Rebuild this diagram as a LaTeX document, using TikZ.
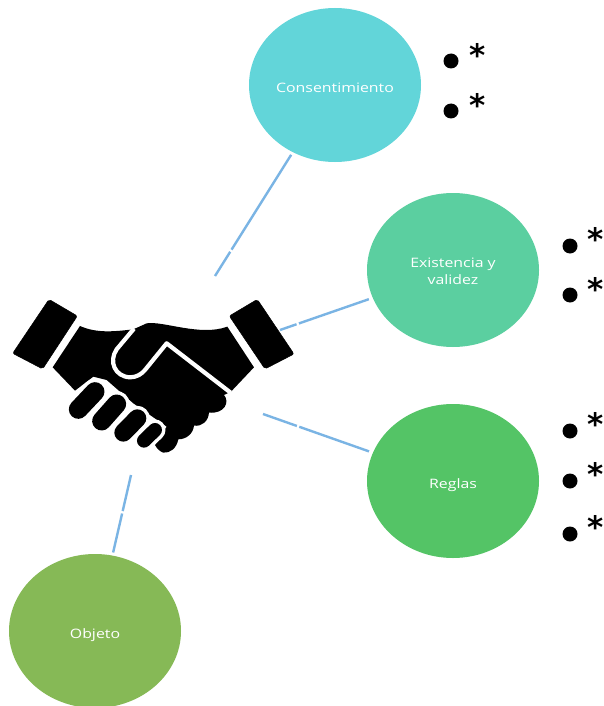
\documentclass[tikz,border=0pt]{standalone}
\usepackage{fontspec}
\setmainfont{Open Sans}
\newfontfamily\lblfont[FakeStretch=1.22]{Open Sans}
\newfontfamily\astfont{DejaVu Sans}
\definecolor{cA}{HTML}{62D5D9}
\definecolor{cB}{HTML}{5BCFA0}
\definecolor{cC}{HTML}{54C466}
\definecolor{cD}{HTML}{86B956}
\definecolor{cLine}{HTML}{7AB4E4}
\tikzset{
  bubble/.style={ellipse,minimum width=172pt,minimum height=154pt,inner sep=0pt},
  lbl/.style={inner sep=0pt,text=white,align=center,font=\lblfont\fontsize{13pt}{17pt}\selectfont},
  conn/.style={draw=cLine,line width=2.4pt},
  dot/.style={circle,fill=black,minimum size=15pt,inner sep=0pt},
  star/.style={inner sep=0pt,font=\astfont\bfseries\fontsize{31pt}{31pt}\selectfont},
  hand/.style={fill=black,draw=none},
  cuff/.style={fill=black,draw=black,line width=.5pt,rounded corners=2pt},
  gapline/.style={draw=white,line width=4.2pt,line join=round},
  fingerhalo/.style={draw=white,line cap=round},
  finger/.style={draw=black,line cap=round}
}
\usetikzlibrary{shapes.geometric}
\begin{document}
\begin{tikzpicture}[x=1pt,y=-1pt]
\useasboundingbox (0,0) rectangle (603,706);
\clip (0,0) rectangle (603,706);
\fill[white] (0,0) rectangle (603,706);
% bubbles
\node[bubble,fill=cA] (cons) at (335,85) {};
\node[bubble,fill=cB] (exis) at (453,270) {};
\node[bubble,fill=cC] (regl) at (453,481) {};
\node[bubble,fill=cD] (obje) at (95,631) {};
\node[lbl] (tcons) at (335,88) {Consentimiento};
\node[lbl] (texis) at (453,271) {Existencia y\\validez};
\node[lbl] (tregl) at (453,485) {Reglas};
\node[lbl] (tobje) at (95,635) {Objeto};
% free ends of connectors
\coordinate (e1) at (215,276);
\coordinate (e2) at (280,330);
\coordinate (e3) at (263,414);
\coordinate (e4) at (131,475);
\draw[conn,shorten <=3pt,dash pattern=on 112pt off 2.5pt on 100pt] (cons) -- (e1);
\draw[conn,shorten <=4pt,dash pattern=on 74pt off 2.5pt on 100pt] (exis) -- (e2);
\draw[conn,shorten <=4pt,dash pattern=on 74pt off 2.5pt on 100pt] (regl) -- (e3);
\draw[conn,shorten <=3pt,dash pattern=on 40pt off 2.5pt on 100pt] (obje) -- (e4);
% handshake
\begin{scope}[shift={(0,280)},x=0.3333pt,y=-0.3333pt]
\fill[cuff] (147,58) -- (232,108) -- (128,267) -- (38,220) -- cycle;
\fill[cuff] (772,58) -- (688,108) -- (795,267) -- (882,222) -- cycle;
\fill[hand] (240,138) .. controls (290,160) and (340,155) .. (400,148)
  -- (440,130) .. controls (490,122) and (600,170) .. (682,140)
  -- (762,262) -- (693,335) -- (672,345)
  .. controls (690,365) and (675,402) .. (627,398)
  .. controls (625,425) and (605,440) .. (582,437)
  .. controls (580,460) and (560,478) .. (535,478)
  .. controls (530,505) and (510,520) .. (490,518)
  .. controls (480,515) and (470,505) .. (465,495)
  -- (500,440) -- (400,370) -- (320,300) -- (280,290) -- (225,332) -- (158,262) -- cycle;
\draw[gapline] (402,146) -- (350,208) .. controls (325,245) and (345,290) .. (390,292)
  .. controls (410,292) and (425,282) .. (435,270) -- (500,190) -- (692,338);
\draw[fingerhalo,line width=26pt] (235,388) -- (285,335);
\draw[fingerhalo,line width=26pt] (305,423) -- (350,372);
\draw[fingerhalo,line width=25pt] (370,458) -- (412,415);
\draw[fingerhalo,line width=21pt] (432,482) -- (465,450);
\draw[finger,line width=19pt] (235,388) -- (285,335);
\draw[finger,line width=19pt] (305,423) -- (350,372);
\draw[finger,line width=18pt] (370,458) -- (412,415);
\draw[finger,line width=14pt] (432,482) -- (465,450);
\end{scope}
% bullets
\node[dot] (b1) at (451,61) {}; \node[star] (s1) at (478,55) {*};
\node[dot] (b2) at (451,111) {}; \node[star] (s2) at (478,105) {*};
\node[dot] (b3) at (570,246) {}; \node[star] (s3) at (596,239) {*};
\node[dot] (b4) at (570,295) {}; \node[star] (s4) at (596,289) {*};
\node[dot] (b5) at (570,431) {}; \node[star] (s5) at (596,424) {*};
\node[dot] (b6) at (570,481) {}; \node[star] (s6) at (596,474) {*};
\node[dot] (b7) at (570,534) {}; \node[star] (s7) at (596,527) {*};
\end{tikzpicture}
\end{document}
